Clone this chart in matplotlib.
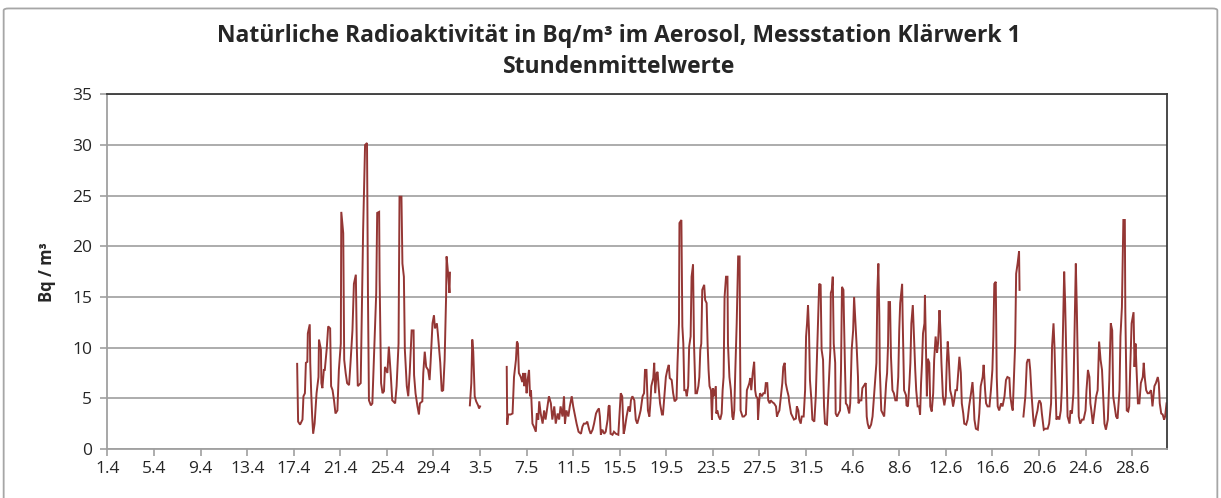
import numpy as np
import matplotlib
matplotlib.use("Agg")
import matplotlib.pyplot as plt
from matplotlib.patches import FancyBboxPatch

# ---------------- data (hours since 1 April 00:00, Bq/m³) ----------------
nan = float("nan")

seg1_hours = [391, 393, 397, 402, 404, 407, 409, 412, 413, 417, 418, 420, 422, 424, 427, 431,
              435, 436, 440, 441, 443, 446, 448, 452, 455, 459, 461, 464, 467, 470, 474, 477,
              481, 482, 486, 488, 491, 494, 498, 501, 505, 508, 512, 514, 516, 522, 524, 527,
              531, 535, 537, 539, 543, 546, 549, 554, 556, 560, 561, 564, 567, 570, 572, 577,
              580, 584, 587, 593, 596, 600, 602, 606, 608, 611, 613, 617, 620, 623, 627, 631,
              632, 635, 639, 642, 644, 649, 651, 654, 657, 661, 664, 666, 670, 673, 675, 679,
              681, 686, 689, 692, 695, 698, 699, 702, 705, 706]
seg1_values = [8.4, 2.7, 2.4, 2.9, 5.2, 5.5, 8.5, 8.6, 11.4, 12.3, 8.5, 5.5, 3.2, 1.5, 2.5, 5.5,
               7.1, 10.8, 9.8, 6.5, 6.0, 7.8, 7.8, 9.9, 12.1, 11.9, 6.2, 5.8, 4.8, 3.5, 3.8, 7.8,
               10.4, 23.4, 21.3, 8.8, 7.5, 6.5, 6.3, 8.5, 11.7, 16.3, 17.2, 10.1, 6.2, 6.5, 12.4, 21.6,
               30.0, 30.2, 15.0, 4.8, 4.3, 4.5, 8.5, 15.4, 23.3, 23.4, 16.7, 6.5, 5.5, 5.7, 8.1, 7.5,
               10.1, 7.3, 4.8, 4.5, 6.2, 10.4, 24.9, 24.9, 18.3, 17.0, 9.8, 6.2, 5.2, 7.5, 11.7, 11.7,
               7.3, 5.5, 4.2, 3.4, 4.5, 4.7, 7.5, 9.6, 8.1, 7.8, 6.8, 8.5, 12.4, 13.2, 11.9, 12.4,
               11.4, 8.5, 5.7, 5.8, 8.8, 15.0, 19.0, 17.4, 15.4, 17.4]

seg2_hours = [747, 750, 752, 754, 756, 757, 760, 764, 766, 768]
seg2_values = [4.3, 6.5, 10.8, 9.6, 6.5, 5.2, 4.7, 4.3, 4.0, 4.2]

seg3_hours = [823, 824, 826, 831, 835, 838, 842, 844, 846, 848, 852, 855, 857, 859, 861, 864,
              866, 869, 871, 873, 876, 879, 883, 885, 888,
              890, 893, 897, 900, 903, 907, 910, 914, 917, 921, 924, 928, 931, 934, 938, 941,
              943, 946, 950, 953, 957, 960, 964, 967, 971, 976, 979, 982, 986, 989, 993, 996,
              1000, 1003, 1007, 1010, 1013, 1015, 1017, 1020, 1024, 1027, 1031, 1033, 1035, 1037, 1041, 1044,
              1048, 1053, 1056, 1058, 1061, 1064, 1066, 1070, 1074, 1077, 1079, 1082, 1086, 1089, 1092, 1096,
              1099, 1103, 1106, 1108, 1111, 1114, 1117, 1119, 1121, 1125, 1127, 1129, 1132, 1134, 1136, 1139,
              1143, 1145,
              1151, 1154, 1157, 1159, 1163, 1166, 1169, 1173, 1175, 1178, 1179, 1183, 1185, 1187, 1189, 1192,
              1194, 1197, 1199, 1202, 1204, 1207, 1209, 1212, 1215, 1218, 1220, 1222, 1224, 1226, 1230, 1232,
              1235, 1237, 1239, 1241, 1244, 1246, 1248, 1250, 1254, 1255, 1257, 1260, 1263, 1266, 1268, 1270,
              1272, 1275, 1278, 1279, 1282, 1285, 1288, 1290, 1292, 1294, 1297, 1300, 1303, 1304, 1305, 1309,
              1312, 1316, 1318, 1321, 1323, 1325, 1327, 1330, 1333, 1335, 1337, 1340, 1341, 1343, 1345, 1349,
              1352, 1355, 1357, 1360, 1362, 1365, 1367, 1371, 1374, 1378, 1380, 1382, 1385, 1388, 1391, 1393,
              1396, 1398, 1401, 1404,
              1405, 1409, 1412, 1415, 1419, 1421, 1424, 1426, 1429, 1431, 1435, 1438, 1440, 1442, 1444, 1446,
              1448, 1451, 1453, 1457, 1460, 1462, 1465, 1467, 1470, 1472, 1475, 1477, 1479, 1483, 1485, 1488,
              1490, 1491, 1493, 1495, 1497, 1500, 1501, 1504, 1507, 1510, 1512, 1514, 1517, 1518, 1520, 1522,
              1525, 1529, 1531, 1534, 1537, 1539, 1541, 1544, 1547, 1548, 1551, 1554, 1556, 1560, 1563, 1565,
              1567, 1570, 1574, 1577, 1580, 1583, 1585, 1587, 1589, 1591, 1592, 1595, 1598, 1601, 1605, 1607,
              1609, 1610, 1613, 1615, 1618, 1621, 1624, 1627, 1630, 1632, 1634, 1638, 1639, 1642, 1646, 1647,
              1650, 1653, 1655, 1657, 1660, 1662,
              1665, 1667, 1670, 1673, 1675, 1677, 1679, 1681, 1684, 1685, 1687, 1689, 1691, 1694, 1696, 1699,
              1702, 1704, 1707, 1710, 1712, 1715, 1717, 1719, 1722, 1725, 1728, 1730, 1732, 1734, 1737, 1740,
              1743, 1745, 1748, 1751, 1754, 1756, 1759, 1761, 1764, 1766, 1770, 1773, 1776, 1780, 1783, 1785,
              1787, 1790, 1794, 1797, 1800, 1804, 1806, 1809, 1811, 1814, 1818, 1821, 1824, 1826, 1828, 1831,
              1833, 1835, 1838, 1842, 1845, 1849, 1852, 1855, 1859, 1861, 1864, 1866, 1869, 1871, 1873, 1876,
              1879, 1880]
seg3_values = [8.1, 2.4, 3.4, 3.4, 3.5, 7.1, 8.8, 10.6, 10.4, 7.5, 7.1, 6.6, 7.5, 6.2, 7.5, 5.5,
               6.8, 7.8, 5.2, 5.8, 2.5, 2.2, 1.7, 3.5, 2.9,
               4.7, 3.5, 2.5, 3.8, 2.9, 4.2, 5.2, 4.5, 2.9, 4.2, 2.5, 3.5, 2.9, 4.2, 3.2, 5.2,
               2.5, 3.8, 3.2, 4.2, 5.2, 4.2, 3.2, 2.5, 1.7, 1.5, 2.2, 2.5, 2.5, 2.7, 1.9, 1.5,
               1.9, 2.5, 3.5, 3.8, 4.0, 3.2, 1.4, 1.9, 1.5, 1.7, 2.9, 4.2, 4.3, 1.5, 1.4, 1.7,
               1.5, 1.4, 3.8, 5.5, 5.2, 1.5, 1.9, 3.2, 4.2, 3.7, 4.8, 5.2, 4.8, 2.9, 2.5, 3.2,
               3.8, 5.2, 5.5, 7.8, 7.8, 3.8, 3.2, 4.5, 6.2, 7.0, 8.5, 5.5, 7.5, 7.6, 6.2, 4.5,
               3.4, 3.4,
               7.1, 7.8, 8.3, 7.0, 6.8, 5.5, 4.7, 4.9, 8.5, 12.4, 22.3, 22.6, 12.1, 10.4, 5.8, 5.8,
               5.2, 6.2, 10.1, 11.1, 17.0, 18.2, 10.4, 5.5, 5.5, 6.2, 7.1, 9.8, 10.4, 15.7, 16.2, 14.7,
               14.4, 10.4, 7.8, 6.2, 5.8, 2.9, 6.0, 5.2, 6.2, 3.5, 3.8, 3.2, 2.9, 3.5, 5.8, 7.1,
               15.0, 17.0, 17.0, 10.4, 7.1, 5.8, 3.2, 2.9, 3.8, 7.5, 12.4, 19.0, 19.0, 9.8, 3.8, 3.2,
               3.2, 3.4, 5.8, 6.2, 6.5, 7.0, 5.8, 7.5, 8.6, 5.8, 5.2, 5.0, 2.9, 4.5, 5.5, 5.2,
               5.5, 5.5, 6.5, 6.5, 4.8, 4.5, 4.8, 4.6, 4.5, 4.2, 3.2, 3.5, 3.8, 5.2, 6.5, 8.1,
               8.5, 6.5, 5.8, 5.2,
               4.7, 3.5, 3.2, 2.9, 3.0, 4.2, 3.8, 2.9, 2.5, 3.2, 3.2, 5.8, 11.1, 12.4, 14.2, 11.7,
               6.8, 4.8, 2.9, 2.7, 5.2, 8.5, 13.1, 16.3, 16.2, 9.8, 8.8, 4.2, 2.5, 2.4, 4.5, 7.8,
               9.8, 15.4, 15.7, 17.0, 10.4, 8.5, 3.5, 3.2, 3.5, 3.8, 7.8, 16.0, 15.7, 13.1, 8.5, 4.5,
               4.3, 3.5, 4.5, 9.8, 11.7, 15.0, 13.1, 10.4, 7.1, 4.5, 4.8, 4.8, 6.0, 6.3, 6.5, 3.2,
               2.5, 2.0, 2.4, 3.2, 5.2, 7.1, 8.5, 15.7, 18.3, 13.1, 7.8, 3.8, 3.5, 3.2, 6.5, 7.5,
               10.4, 14.5, 14.5, 9.1, 5.8, 5.5, 4.8, 4.8, 7.1, 11.7, 14.4, 16.3, 13.1, 5.8, 5.3, 4.3,
               4.2, 6.5, 8.5, 12.4, 14.2, 11.7,
               7.8, 5.8, 4.2, 4.2, 3.4, 6.5, 8.5, 11.4, 12.4, 15.2, 10.4, 5.2, 8.9, 8.5, 4.2, 3.7,
               5.5, 8.8, 11.1, 9.5, 10.4, 13.7, 11.7, 8.5, 5.2, 4.3, 5.2, 8.5, 10.6, 9.1, 5.8, 5.2,
               4.2, 4.7, 5.8, 5.8, 7.8, 9.1, 7.5, 4.5, 3.5, 2.5, 2.4, 2.9, 4.2, 5.5, 6.6, 5.2,
               2.9, 2.0, 1.9, 3.5, 6.2, 7.1, 8.3, 5.8, 4.5, 4.2, 4.2, 5.8, 7.8, 11.1, 16.3, 16.5,
               7.1, 4.2, 3.8, 4.5, 4.2, 5.2, 6.8, 7.1, 7.0, 5.2, 4.2, 3.8, 7.8, 10.4, 17.3, 18.3,
               19.5, 15.7]

seg4_hours = [1888, 1892, 1895, 1897, 1900, 1902, 1905, 1908, 1910, 1914, 1917, 1919,
              1921, 1924, 1926, 1930, 1933, 1938, 1941, 1945, 1947, 1950, 1952, 1954, 1956, 1959,
              1962, 1965, 1967, 1970, 1972, 1974, 1977, 1979, 1983, 1985, 1988, 1991, 1994, 1996,
              1998, 2000, 2002, 2005, 2009, 2012, 2016, 2018, 2021, 2024, 2026, 2028, 2031, 2033,
              2038, 2041, 2044, 2047, 2050, 2053, 2055, 2058, 2062, 2065, 2068, 2071, 2073, 2076,
              2079, 2082, 2086, 2088, 2091, 2094, 2097, 2098, 2101, 2104, 2106, 2108, 2111, 2115,
              2117, 2119, 2121, 2124, 2127, 2130, 2134, 2136, 2138, 2141, 2144, 2147, 2151, 2154,
              2158, 2161, 2165, 2167, 2169, 2172, 2175, 2178, 2180, 2183]
seg4_values = [3.2, 5.2, 8.5, 8.8, 8.8, 7.8, 5.2, 3.2, 2.2, 3.2, 3.8, 4.5,
               4.8, 4.5, 3.5, 1.9, 2.0, 2.0, 2.5, 4.5, 10.1, 12.4, 10.1, 6.5, 2.9, 3.2,
               2.9, 3.8, 5.8, 13.1, 17.5, 14.4, 7.8, 3.2, 2.5, 3.8, 3.5, 5.5, 13.1, 18.3,
               14.0, 8.5, 3.2, 2.5, 2.9, 2.9, 3.8, 5.8, 7.8, 7.1, 4.5, 3.8, 2.5, 3.2,
               5.2, 5.8, 10.6, 8.8, 7.8, 4.5, 2.5, 1.9, 2.9, 6.8, 12.4, 11.7, 5.2, 4.2,
               3.2, 3.0, 5.8, 11.1, 14.0, 22.6, 22.6, 13.7, 3.8, 3.7, 4.2, 7.8, 12.4, 13.5,
               8.1, 10.4, 8.1, 4.5, 4.5, 6.5, 7.1, 8.5, 7.1, 5.8, 5.5, 5.5, 5.8, 4.2,
               6.2, 6.5, 7.1, 6.5, 4.5, 3.5, 3.4, 2.9, 3.2, 4.5]

tick_hours = list(range(0, 2184, 96))
tick_labels = ["1.4", "5.4", "9.4", "13.4", "17.4", "21.4", "25.4", "29.4", "3.5", "7.5",
               "11.5", "15.5", "19.5", "23.5", "27.5", "31.5", "4.6", "8.6", "12.6", "16.6",
               "20.6", "24.6", "28.6"]
y_ticks = [0, 5, 10, 15, 20, 25, 30, 35]

title_text = "Natürliche Radioaktivität in Bq/m³ im Aerosol, Messstation Klärwerk 1\nStundenmittelwerte"
ylabel_text = "Bq / m³"

# ---------------- build series with gaps ----------------
hours = seg1_hours + [nan] + seg2_hours + [nan] + seg3_hours + [nan] + seg4_hours
values = seg1_values + [nan] + seg2_values + [nan] + seg3_values + [nan] + seg4_values

plt.rcParams['font.family'] = ['Open Sans', 'DejaVu Sans']

fig = plt.figure(figsize=(12.21, 4.98), dpi=100)
fig.patch.set_facecolor("white")

# chart-area border
border = FancyBboxPatch((0.003, -0.05), 0.994, 1.033, boxstyle="round,pad=0,rounding_size=0.004",
                        transform=fig.transFigure, fill=False, edgecolor="#A6A6A6", linewidth=1.3)
fig.patches.append(border)

ax = fig.add_axes([0.0880, 0.0985, 0.8678, 0.7120])
ax.plot(hours, values, color="#943634", linewidth=1.4, solid_joinstyle="miter")

ax.set_xlim(0, 2184)
ax.set_ylim(0, 35)
ax.set_yticks(y_ticks)
ax.set_xticks(tick_hours)
ax.set_xticklabels(tick_labels)
ax.tick_params(axis="both", labelsize=12.5, colors="#A0A0A0", labelcolor="#262626",
               length=5, width=1.2)
ax.tick_params(axis="x", pad=4)
ax.tick_params(axis="y", pad=6)

ax.grid(axis="y", color="#A6A6A6", linewidth=1.3)
ax.set_axisbelow(True)

for side in ("left", "bottom"):
    ax.spines[side].set_color("#A0A0A0")
    ax.spines[side].set_linewidth(1.3)
for side in ("top", "right"):
    ax.spines[side].set_color("#3A3A3A")
    ax.spines[side].set_linewidth(1.3)

ax.set_ylabel(ylabel_text, fontsize=12, fontweight="bold", color="#262626", labelpad=12)

fig.text(0.507, 0.897, title_text, ha="center", va="center", fontsize=16.5, fontweight="bold",
         color="#262626", linespacing=1.4)

fig.savefig("out.png", dpi=100, facecolor="white")
